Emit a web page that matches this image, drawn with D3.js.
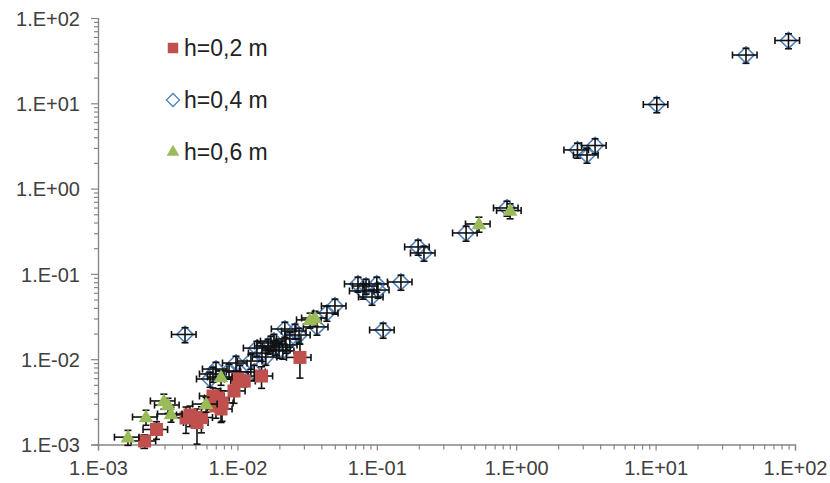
<!DOCTYPE html>
<html>
<head>
<meta charset="utf-8">
<script src="https://cdn.jsdelivr.net/npm/d3@7/dist/d3.min.js"></script>
<style>
  html, body { margin: 0; padding: 0; background: #fff; }
  svg { display: block; }
  text { font-family: "Liberation Sans", Arial, sans-serif; }
</style>
</head>
<body>
<svg id="chart" width="830" height="483"></svg>
<script>
// ---- data ----
const seriesLabels = ["h=0,2 m", "h=0,4 m", "h=0,6 m"];
const tickValues = [1e-3, 1e-2, 1e-1, 1e0, 1e1, 1e2];
const tickLabels = ["1.E-03", "1.E-02", "1.E-01", "1.E+00", "1.E+01", "1.E+02"];

// h=0.2 m (red squares)
const redX = [0.00216, 0.00263, 0.00428, 0.00457, 0.00513, 0.00552, 0.00668, 0.00726, 0.00776, 0.00702, 0.00763, 0.00946, 0.0101, 0.0112, 0.0149, 0.0281];
const redY = [0.00110, 0.00150, 0.00205, 0.00222, 0.00181, 0.00207, 0.00370, 0.00351, 0.00307, 0.00283, 0.00261, 0.00424, 0.00586, 0.00555, 0.00635, 0.0105];
const redYErr = [0.0002, 0.00035, 0.0007, 0.0006, 0.0008, 0.0007, 0.0009, 0.0010, 0.0012, 0.0008, 0.0008, 0.0012, 0.0008, 0.0008, 0.0018, 0.0045];

// h=0.4 m (blue diamonds)
const blueX = [0.00421, 0.00636, 0.00668, 0.00702, 0.00871, 0.00977, 0.0104, 0.0125, 0.0132, 0.0138, 0.0150, 0.0160, 0.0166, 0.0174, 0.0183, 0.0189, 0.0199, 0.0212, 0.0223, 0.0219, 0.0238, 0.0259, 0.0277, 0.0372, 0.0439, 0.0501,
               0.0733, 0.0837, 0.100, 0.0796, 0.0924, 0.102, 0.149, 0.111, 0.198, 0.218, 0.437, 0.859,
               2.75, 3.22, 3.68, 10.2, 44.5, 89.8];
const blueY = [0.0195, 0.00586, 0.00671, 0.00767, 0.00728, 0.00902, 0.00708, 0.00952, 0.00708, 0.0135, 0.0118, 0.0106, 0.0143, 0.0155, 0.0163, 0.0139, 0.0128, 0.0125, 0.0147, 0.0226, 0.0173, 0.0214, 0.0192, 0.0239, 0.0348, 0.0421,
               0.0762, 0.0721, 0.0762, 0.0631, 0.0536, 0.0647, 0.0804, 0.0220, 0.207, 0.176, 0.302, 0.593,
               2.84, 2.48, 3.20, 9.68, 36.8, 54.5];

// h=0.6 m (green triangles)
const greenX = [0.00164, 0.00221, 0.00297, 0.00318, 0.00334, 0.00596, 0.00763, 0.0332, 0.0361, 0.541, 0.904];
const greenY = [0.00122, 0.00210, 0.00324, 0.00290, 0.00228, 0.00298, 0.00618, 0.0289, 0.0304, 0.385, 0.553];

// relative (percentage) error bars
const xErrPct = 0.2;
const blueYErrPct = 0.2;
const greenYErrPct = 0.2;

// ---- chart ----
const svg = d3.select("#chart");
const x = d3.scaleLog().domain([1e-3, 1e2]).range([98, 795]);
const y = d3.scaleLog().domain([1e-3, 1e2]).range([444.5, 18]);
const colors = ["#C0504D", "#4F81BD", "#9BBB59"];
const axisColor = "#868686";
const textColor = "#404040";

const minorTicks = [];
for (let e = -3; e < 2; e++) for (let m = 2; m <= 9; m++) minorTicks.push(m * Math.pow(10, e));

// axes
const yMinor = svg.append("g").attr("transform", "translate(98,0)")
  .call(d3.axisLeft(y).tickValues(minorTicks).tickSize(4).tickFormat(""));
const yAxis = svg.append("g").attr("transform", "translate(98,0)")
  .call(d3.axisLeft(y).tickValues(tickValues).tickSize(7).tickPadding(11)
    .tickFormat((d, i) => tickLabels[i]));
const xMinor = svg.append("g").attr("transform", "translate(0,444.5)")
  .call(d3.axisBottom(x).tickValues(minorTicks).tickSize(5).tickFormat(""));
const xAxis = svg.append("g").attr("transform", "translate(0,444.5)")
  .call(d3.axisBottom(x).tickValues(tickValues).tickSize(6).tickPadding(9)
    .tickFormat((d, i) => tickLabels[i]));

[yMinor, yAxis, xMinor, xAxis].forEach(g => {
  g.selectAll("path.domain").attr("stroke", axisColor).attr("stroke-width", 1.2);
  g.selectAll(".tick line").attr("stroke", axisColor).attr("stroke-width", 1.2);
  g.selectAll("text").attr("fill", textColor).style("font-size", "20px")
    .style("font-family", "'Liberation Sans', Arial, sans-serif");
});
yAxis.selectAll("text").attr("dy", "0.36em");
xAxis.selectAll("text").attr("dy", "0.76em");

// data helpers
function pts(xs, ys, yErr, yPct) {
  return xs.map((v, i) => ({
    x: v, y: ys[i],
    ex: v * xErrPct,
    ey: yErr ? yErr[i] : ys[i] * yPct
  }));
}
const red = pts(redX, redY, redYErr, 0);
const blue = pts(blueX, blueY, null, blueYErrPct);
const green = pts(greenX, greenY, null, greenYErrPct);

const plot = svg.append("g");

function errorBars(g, data) {
  const cap = 3.5;
  const eb = g.append("g").attr("stroke", "#111").attr("stroke-width", 1.6).attr("fill", "none");
  data.forEach(d => {
    const cx = x(d.x), cy = y(d.y);
    const x0 = x(d.x - d.ex), x1 = x(d.x + d.ex);
    const y0 = y(d.y - d.ey), y1 = y(d.y + d.ey);
    eb.append("line").attr("x1", x0).attr("x2", x1).attr("y1", cy).attr("y2", cy);
    eb.append("line").attr("x1", x0).attr("x2", x0).attr("y1", cy - cap).attr("y2", cy + cap);
    eb.append("line").attr("x1", x1).attr("x2", x1).attr("y1", cy - cap).attr("y2", cy + cap);
    eb.append("line").attr("x1", cx).attr("x2", cx).attr("y1", y0).attr("y2", y1);
    eb.append("line").attr("x1", cx - cap).attr("x2", cx + cap).attr("y1", y0).attr("y2", y0);
    eb.append("line").attr("x1", cx - cap).attr("x2", cx + cap).attr("y1", y1).attr("y2", y1);
  });
}

const symSquare = d3.symbol().type(d3.symbolSquare).size(170);
const symDiamond = d3.symbol().type(d3.symbolSquare).size(135);
const symTriangle = d3.symbol().type(d3.symbolTriangle).size(95);

// blue diamonds (hollow, error bars drawn on top)
const gBlue = plot.append("g");
gBlue.append("g").selectAll("path").data(blue).join("path")
  .attr("d", symDiamond)
  .attr("transform", d => `translate(${x(d.x)},${y(d.y)}) rotate(45)`)
  .attr("fill", "rgba(255,255,255,0.15)").attr("stroke", colors[1]).attr("stroke-width", 1.6);
errorBars(gBlue, blue);

// red squares (markers over their error bars)
const gRed = plot.append("g");
errorBars(gRed, red);
gRed.append("g").selectAll("path").data(red).join("path")
  .attr("d", symSquare)
  .attr("transform", d => `translate(${x(d.x)},${y(d.y)})`)
  .attr("fill", colors[0]);

// green triangles
const gGreen = plot.append("g");
errorBars(gGreen, green);
gGreen.append("g").selectAll("path").data(green).join("path")
  .attr("d", symTriangle)
  .attr("transform", d => `translate(${x(d.x)},${y(d.y) + 1})`)
  .attr("fill", colors[2]);

// legend
const legend = svg.append("g");
const legendY = [48, 100, 152];
const legendSyms = [
  {d: d3.symbol().type(d3.symbolSquare).size(110)(), rot: 0, fill: colors[0], stroke: "none"},
  {d: d3.symbol().type(d3.symbolSquare).size(85)(), rot: 45, fill: "#fff", stroke: colors[1]},
  {d: d3.symbol().type(d3.symbolTriangle).size(70)(), rot: 0, fill: colors[2], stroke: "none"}
];
seriesLabels.forEach((lab, i) => {
  const s = legendSyms[i];
  legend.append("path").attr("d", s.d)
    .attr("transform", `translate(173,${legendY[i]}) rotate(${s.rot})`)
    .attr("fill", s.fill).attr("stroke", s.stroke).attr("stroke-width", 1.3);
  legend.append("text").attr("x", 184).attr("y", legendY[i]).attr("dy", "0.36em")
    .attr("fill", "#222").style("font-size", "23px").text(lab);
});
</script>
</body>
</html>
